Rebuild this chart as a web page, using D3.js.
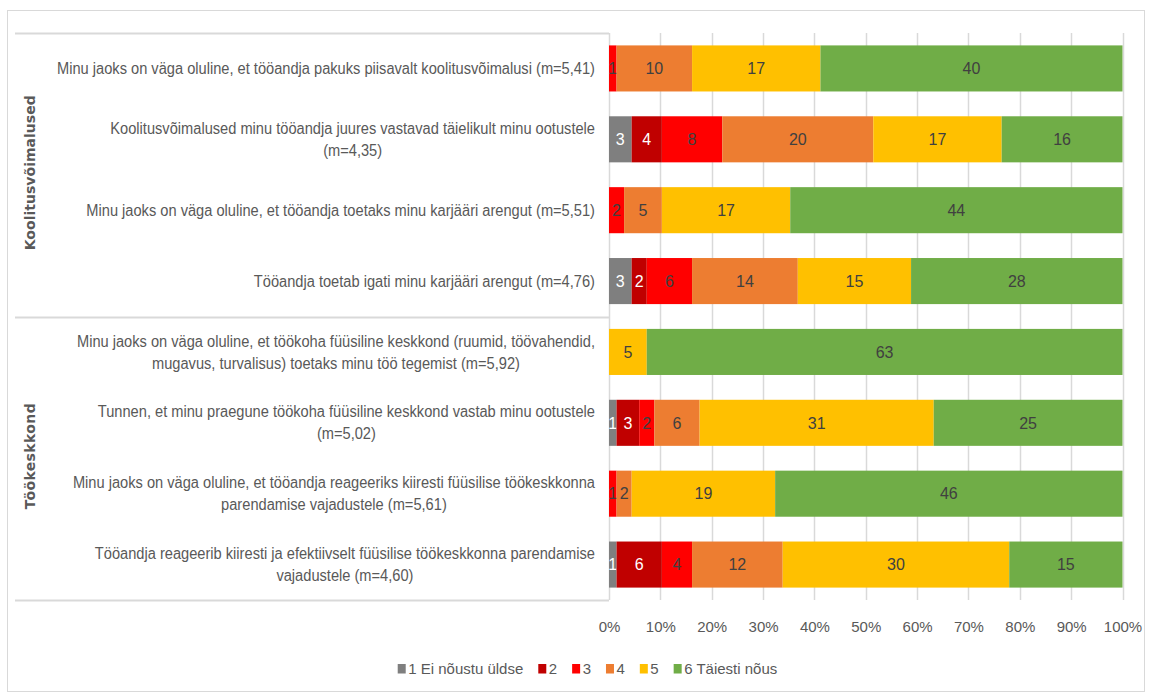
<!DOCTYPE html>
<html>
<head>
<meta charset="utf-8">
<script src="https://cdn.jsdelivr.net/npm/d3@7"></script>
<style>
  html, body { margin: 0; padding: 0; background: #ffffff; }
  svg { display: block; }
</style>
</head>
<body>
<svg id="chart" width="1149" height="695"></svg>
<script>
// Survey statements, each split into the lines it is printed on
const categories = [
  ["Minu jaoks on väga oluline, et tööandja pakuks piisavalt koolitusvõimalusi (m=5,41)"],
  ["Koolitusvõimalused minu tööandja juures vastavad täielikult minu ootustele", "(m=4,35)"],
  ["Minu jaoks on väga oluline, et tööandja toetaks minu karjääri arengut (m=5,51)"],
  ["Tööandja toetab igati minu karjääri arengut (m=4,76)"],
  ["Minu jaoks on väga oluline, et töökoha füüsiline keskkond (ruumid, töövahendid,", "mugavus, turvalisus) toetaks minu töö tegemist (m=5,92)"],
  ["Tunnen, et minu praegune töökoha füüsiline keskkond vastab minu ootustele", "(m=5,02)"],
  ["Minu jaoks on väga oluline, et tööandja reageeriks kiiresti füüsilise töökeskkonna", "parendamise vajadustele (m=5,61)"],
  ["Tööandja reageerib kiiresti ja efektiivselt füüsilise töökeskkonna parendamise", "vajadustele (m=4,60)"]
];

// Topic groups: name and how many statements belong to it
const groupNames = ["Koolitusvõimalused", "Töökeskkond"];
const groupSizes = [4, 4];

// Answer scale (legend entries)
const seriesNames = ["1 Ei nõustu üldse", "2", "3", "4", "5", "6 Täiesti nõus"];
const seriesColors = ["#7f7f7f", "#c00000", "#ff0000", "#ed7d31", "#ffc000", "#70ad47"];
const labelColors = ["#ffffff", "#ffffff", "#404040", "#404040", "#404040", "#404040"];

// Number of respondents per answer, one value per statement
const s1 = [0, 3, 0, 3, 0, 1, 0, 1];
const s2 = [0, 4, 0, 2, 0, 3, 0, 6];
const s3 = [1, 8, 2, 6, 0, 2, 1, 4];
const s4 = [10, 20, 5, 14, 0, 6, 2, 12];
const s5 = [17, 17, 17, 15, 5, 31, 19, 30];
const s6 = [40, 16, 44, 28, 63, 25, 46, 15];
const seriesValues = [s1, s2, s3, s4, s5, s6];

const tickValues = [0, 0.1, 0.2, 0.3, 0.4, 0.5, 0.6, 0.7, 0.8, 0.9, 1];

const FONT = "'Liberation Sans Narrow', 'Arial Narrow', 'Liberation Sans', sans-serif";
const TEXT = "#595959";
const GRID = "#d9d9d9";

const svg = d3.select("#chart");

// Plot geometry
const plot = { left: 609, right: 1122.5, top: 33, bottom: 600 };

// Chart frame
svg.append("rect")
  .attr("x", 7.5).attr("y", 10.5)
  .attr("width", 1137).attr("height", 681)
  .attr("fill", "none").attr("stroke", GRID).attr("stroke-width", 1);

// Build stacked rows as shares of the row total
const rows = categories.map((c, i) => {
  const vals = seriesValues.map(s => s[i]);
  const total = d3.sum(vals);
  const row = { index: i, total };
  seriesNames.forEach((n, k) => { row["k" + k] = vals[k] / total; row["v" + k] = vals[k]; });
  return row;
});
const keys = seriesNames.map((n, k) => "k" + k);
const stacked = d3.stack().keys(keys)(rows);

const x = d3.scaleLinear().domain([0, 1]).range([plot.left, plot.right]);
const y = d3.scaleBand().domain(d3.range(categories.length))
  .range([plot.top, plot.bottom]).paddingInner(0.35).paddingOuter(0.175);

// Vertical gridlines
svg.append("g")
  .selectAll("line")
  .data(tickValues)
  .join("line")
  .attr("x1", d => Math.round(x(d)) + 0.5)
  .attr("x2", d => Math.round(x(d)) + 0.5)
  .attr("y1", plot.top).attr("y2", plot.bottom)
  .attr("stroke", GRID).attr("stroke-width", 1.5);

// Percent axis
const xAxis = d3.axisBottom(x)
  .tickValues(tickValues)
  .tickFormat(d3.format(".0%"))
  .tickSize(0).tickPadding(0);
const axisG = svg.append("g")
  .attr("transform", `translate(0, ${plot.bottom + 32})`)
  .call(xAxis);
axisG.select(".domain").remove();
axisG.selectAll("text")
  .attr("font-family", FONT).attr("font-size", 15)
  .attr("fill", TEXT).attr("dy", 0);

// Stacked bars
const layers = svg.append("g")
  .selectAll("g")
  .data(stacked)
  .join("g")
  .attr("fill", (d, k) => seriesColors[k]);

layers.selectAll("rect")
  .data(d => d)
  .join("rect")
  .attr("x", d => x(d[0]))
  .attr("width", d => x(d[1]) - x(d[0]))
  .attr("y", d => y(d.data.index))
  .attr("height", y.bandwidth());

// Segment value labels
layers.each(function (layer, k) {
  d3.select(this).selectAll("text")
    .data(layer.filter(d => d.data["v" + k] > 0))
    .join("text")
    .attr("x", d => (x(d[0]) + x(d[1])) / 2)
    .attr("y", d => y(d.data.index) + y.bandwidth() / 2)
    .attr("dy", "0.36em")
    .attr("text-anchor", "middle")
    .attr("font-family", FONT).attr("font-size", 16)
    .attr("fill", labelColors[k])
    .text(d => d.data["v" + k]);
});

// Statement labels, each block right-aligned with lines centred on each other;
// the face is condensed horizontally so the longest line spans 538px
const labelRight = 595;
const lineHeight = 22;
const labelG = svg.append("g");
const blocks = categories.map((lines, i) => {
  const cy = y(i) + y.bandwidth() / 2;
  const g = labelG.append("g");
  const texts = lines.map((line, j) =>
    g.append("text")
      .attr("font-family", FONT).attr("font-size", 16)
      .attr("fill", TEXT)
      .attr("text-anchor", "middle")
      .attr("y", cy + (j - (lines.length - 1) / 2) * lineHeight)
      .attr("dy", "0.35em")
      .text(line));
  return { g, texts, widest: d3.max(texts, t => t.node().getComputedTextLength()) };
});
const condense = 538 / blocks[0].widest;
blocks.forEach(b => {
  b.texts.forEach(t => t.attr("x", -b.widest / 2));
  b.g.attr("transform", `translate(${labelRight}, 0) scale(${condense}, 1)`);
});

// Group separators and rotated group names
const groupEdges = [plot.top];
let acc = 0;
groupSizes.forEach(n => { acc += n; groupEdges.push(plot.top + (plot.bottom - plot.top) * acc / categories.length); });
const groupLengths = [155, 106];

svg.append("g")
  .selectAll("line")
  .data(groupEdges)
  .join("line")
  .attr("x1", 15).attr("x2", plot.left)
  .attr("y1", d => Math.round(d) + 0.5).attr("y2", d => Math.round(d) + 0.5)
  .attr("stroke", GRID).attr("stroke-width", 2);

svg.append("g")
  .selectAll("text")
  .data(groupNames)
  .join("text")
  .attr("transform", (d, i) => `translate(30, ${(groupEdges[i] + groupEdges[i + 1]) / 2 - 2}) rotate(-90)`)
  .attr("text-anchor", "middle")
  .attr("dy", "0.35em")
  .attr("font-family", "'DejaVu Sans', sans-serif")
  .attr("font-weight", "bold")
  .attr("font-size", 14)
  .attr("textLength", (d, i) => groupLengths[i])
  .attr("lengthAdjust", "spacing")
  .attr("fill", TEXT)
  .text(d => d);

// Legend
const legend = svg.append("g");
let lx = 0;
seriesNames.forEach((name, k) => {
  const item = legend.append("g");
  item.append("rect")
    .attr("x", 0).attr("y", -5).attr("width", 8).attr("height", 9.5)
    .attr("fill", seriesColors[k]);
  const t = item.append("text")
    .attr("x", 10.5).attr("y", 0).attr("dy", "0.35em")
    .attr("font-family", FONT).attr("font-size", 15)
    .attr("fill", TEXT)
    .text(name);
  const w = 10.5 + t.node().getComputedTextLength();
  item.attr("transform", `translate(${lx}, 0)`);
  lx += w + 15;
});
const legendWidth = lx - 15;
legend.attr("transform", `translate(${587.5 - legendWidth / 2}, 669)`);
</script>
</body>
</html>
